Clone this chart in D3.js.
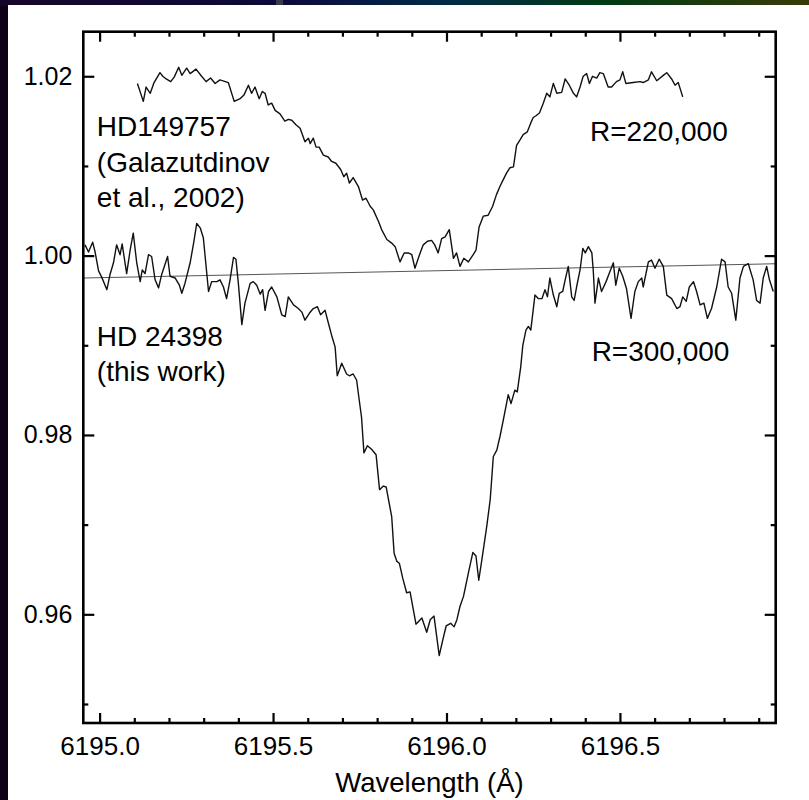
<!DOCTYPE html>
<html>
<head>
<meta charset="utf-8">
<script src="https://cdn.jsdelivr.net/npm/d3@7"></script>
<style>
  html, body { margin: 0; padding: 0; background: #0e0016; }
  svg { display: block; }
  text { font-family: "Liberation Sans", Arial, Helvetica, sans-serif; fill: #000; }
</style>
</head>
<body>
<svg id="chart" width="809" height="800"></svg>
<script>
// ---------------- DATA ----------------
// HD149757 (Galazutdinov et al., 2002), R=220,000
const upperWl = [
  6195.109,6195.126,6195.134,6195.146,6195.157,6195.174,6195.182,6195.192,6195.205,6195.215,
  6195.228,6195.237,6195.251,6195.261,6195.278,6195.294,6195.307,6195.320,6195.333,6195.347,
  6195.371,6195.388,6195.405,6195.416,6195.429,6195.438,6195.448,6195.460,6195.469,6195.477,
  6195.486,6195.496,6195.506,6195.520,6195.534,6195.544,6195.554,6195.566,6195.578,6195.592,
  6195.602,6195.607,6195.616,6195.624,6195.633,6195.645,6195.659,6195.669,6195.681,6195.695,
  6195.704,6195.712,6195.720,6195.731,6195.746,6195.758,6195.768,6195.780,6195.789,6195.804,
  6195.813,6195.828,6195.842,6195.852,6195.866,6195.878,6195.890,6195.900,6195.909,6195.924,
  6195.933,6195.945,6195.957,6195.966,6195.976,6195.986,6195.996,6196.008,6196.020,6196.029,
  6196.039,6196.050,6196.063,6196.077,6196.085,6196.094,6196.106,6196.120,6196.133,6196.144,
  6196.154,6196.164,6196.173,6196.183,6196.193,6196.202,6196.212,6196.221,6196.233,6196.243,
  6196.250,6196.258,6196.268,6196.279,6196.289,6196.298,6196.308,6196.318,6196.332,6196.342,
  6196.354,6196.366,6196.375,6196.385,6196.394,6196.404,6196.412,6196.421,6196.433,6196.442,
  6196.452,6196.466,6196.476,6196.490,6196.500,6196.508,6196.517,6196.538,6196.558,6196.567,
  6196.582,6196.591,6196.606,6196.625,6196.635,6196.649,6196.659,6196.668,6196.681
];
const upperFlux = [
  1.0192,1.0172,1.0188,1.0181,1.0193,1.0204,1.0200,1.0197,1.0194,1.0199,
  1.0210,1.0201,1.0209,1.0203,1.0208,1.0200,1.0194,1.0198,1.0192,1.0196,
  1.0193,1.0172,1.0175,1.0179,1.0190,1.0181,1.0188,1.0175,1.0183,1.0181,
  1.0168,1.0170,1.0162,1.0158,1.0150,1.0152,1.0151,1.0146,1.0142,1.0127,
  1.0131,1.0125,1.0131,1.0121,1.0121,1.0112,1.0110,1.0105,1.0103,1.0096,
  1.0088,1.0092,1.0081,1.0087,1.0077,1.0062,1.0064,1.0055,1.0051,1.0038,
  1.0029,1.0018,1.0014,1.0010,0.9993,1.0003,1.0003,1.0001,0.9986,1.0003,
  1.0012,1.0016,1.0017,1.0012,1.0003,1.0019,1.0021,1.0029,0.9997,1.0003,
  0.9988,0.9997,0.9993,1.0001,1.0006,1.0032,1.0044,1.0045,1.0055,1.0068,
  1.0077,1.0085,1.0092,1.0098,1.0099,1.0123,1.0129,1.0135,1.0138,1.0148,
  1.0154,1.0156,1.0159,1.0170,1.0181,1.0177,1.0192,1.0181,1.0182,1.0197,
  1.0190,1.0181,1.0177,1.0188,1.0200,1.0203,1.0192,1.0200,1.0198,1.0204,
  1.0203,1.0188,1.0188,1.0194,1.0196,1.0205,1.0192,1.0193,1.0194,1.0193,
  1.0196,1.0205,1.0195,1.0201,1.0204,1.0197,1.0190,1.0193,1.0177
];

// HD 24398 (this work), R=300,000
const lowerWl = [
  6194.958,6194.968,6194.980,6194.987,6194.997,6195.006,6195.021,6195.030,6195.040,6195.049,
  6195.059,6195.065,6195.078,6195.088,6195.097,6195.107,6195.117,6195.123,6195.131,6195.141,
  6195.150,6195.160,6195.170,6195.179,6195.196,6195.203,6195.218,6195.230,6195.237,6195.246,
  6195.261,6195.271,6195.280,6195.290,6195.299,6195.307,6195.314,6195.323,6195.338,6195.347,
  6195.357,6195.366,6195.376,6195.386,6195.393,6195.400,6195.410,6195.419,6195.434,6195.443,
  6195.453,6195.463,6195.470,6195.477,6195.487,6195.496,6195.511,6195.525,6195.535,6195.544,
  6195.559,6195.573,6195.583,6195.592,6195.605,6195.616,6195.628,6195.637,6195.650,6195.660,
  6195.669,6195.679,6195.685,6195.698,6195.712,6195.720,6195.731,6195.741,6195.746,6195.755,
  6195.762,6195.772,6195.784,6195.797,6195.807,6195.818,6195.826,6195.842,6195.849,6195.857,
  6195.864,6195.874,6195.885,6195.895,6195.912,6195.929,6195.943,6195.953,6195.964,6195.979,
  6195.989,6195.999,6196.012,6196.022,6196.030,6196.039,6196.049,6196.063,6196.076,6196.085,
  6196.093,6196.102,6196.116,6196.126,6196.135,6196.145,6196.154,6196.164,6196.178,6196.186,
  6196.197,6196.204,6196.214,6196.220,6196.229,6196.236,6196.243,6196.255,6196.265,6196.275,
  6196.284,6196.291,6196.298,6196.308,6196.318,6196.325,6196.335,6196.341,6196.351,6196.361,
  6196.368,6196.375,6196.385,6196.393,6196.400,6196.409,6196.419,6196.423,6196.428,6196.438,
  6196.447,6196.460,6196.469,6196.481,6196.488,6196.498,6196.508,6196.519,6196.532,6196.543,
  6196.553,6196.563,6196.567,6196.582,6196.591,6196.601,6196.613,6196.625,6196.635,6196.649,
  6196.664,6196.673,6196.681,6196.691,6196.700,6196.712,6196.721,6196.731,6196.742,6196.752,
  6196.764,6196.779,6196.793,6196.803,6196.812,6196.822,6196.834,6196.846,6196.856,6196.870,
  6196.884,6196.894,6196.904,6196.913,6196.923,6196.931,6196.942
];
const lowerFlux = [
  1.0012,1.0004,1.0015,1.0004,0.9983,0.9976,0.9962,0.9979,0.9992,1.0012,
  1.0001,1.0013,0.9980,1.0006,1.0025,0.9992,0.9971,0.9984,0.9980,1.0001,
  0.9999,0.9973,0.9964,0.9979,0.9999,0.9977,0.9975,0.9967,0.9958,0.9969,
  0.9992,1.0014,1.0036,1.0031,1.0020,0.9988,0.9960,0.9971,0.9971,0.9973,
  0.9965,0.9952,0.9973,0.9998,0.9996,0.9969,0.9923,0.9947,0.9969,0.9971,
  0.9967,0.9957,0.9962,0.9939,0.9960,0.9965,0.9954,0.9934,0.9932,0.9954,
  0.9945,0.9941,0.9937,0.9928,0.9936,0.9941,0.9943,0.9934,0.9939,0.9924,
  0.9911,0.9898,0.9866,0.9880,0.9868,0.9866,0.9868,0.9861,0.9846,0.9820,
  0.9780,0.9788,0.9784,0.9778,0.9739,0.9743,0.9742,0.9709,0.9668,0.9659,
  0.9657,0.9640,0.9624,0.9625,0.9589,0.9596,0.9580,0.9594,0.9598,0.9554,
  0.9571,0.9587,0.9590,0.9586,0.9594,0.9609,0.9620,0.9646,0.9669,0.9665,
  0.9638,0.9661,0.9698,0.9728,0.9776,0.9783,0.9798,0.9817,0.9845,0.9835,
  0.9850,0.9848,0.9876,0.9900,0.9917,0.9921,0.9917,0.9956,0.9952,0.9952,
  0.9962,0.9954,0.9975,0.9956,0.9943,0.9958,0.9960,0.9971,0.9988,0.9954,
  0.9950,0.9965,0.9984,1.0008,1.0003,1.0010,1.0003,0.9984,0.9947,0.9975,
  0.9960,0.9971,0.9980,0.9992,0.9967,0.9986,0.9977,0.9963,0.9930,0.9960,
  0.9971,0.9975,0.9965,0.9993,0.9995,0.9986,0.9996,0.9988,0.9956,0.9952,
  0.9941,0.9943,0.9954,0.9949,0.9965,0.9971,0.9960,0.9945,0.9947,0.9930,
  0.9941,0.9965,0.9996,0.9993,0.9965,0.9958,0.9928,0.9975,0.9988,0.9991,
  0.9973,0.9950,0.9947,0.9975,0.9988,0.9973,0.9960
];

// continuum fit line
const contWl = [6194.953, 6196.949];
const contFlux = [0.9975, 0.9991];

// axes
const xDomain = [6194.953, 6196.949];
const yDomain = [0.94788, 1.02497];
const xMajorTicks = [6195.0, 6195.5, 6196.0, 6196.5];
const xMinorTicks = [6195.1,6195.2,6195.3,6195.4,6195.6,6195.7,6195.8,6195.9,6196.1,6196.2,6196.3,6196.4,6196.6,6196.7,6196.8,6196.9];
const yMajorTicks = [0.96, 0.98, 1.00, 1.02];
const yMinorTicks = [0.95, 0.97, 0.99, 1.01];
const xLabel = "Wavelength (Å)";

// annotations (data coordinates)
const annotations = [
  { text: "HD149757",       wl: 6194.992, f: 1.01334 },
  { text: "(Galazutdinov",  wl: 6194.992, f: 1.00938 },
  { text: "et al., 2002)",  wl: 6194.992, f: 1.00542 },
  { text: "R=220,000",      wl: 6196.4135, f: 1.01282 },
  { text: "HD 24398",       wl: 6194.992, f: 0.98992 },
  { text: "(this work)",    wl: 6194.992, f: 0.98602 },
  { text: "R=300,000",      wl: 6196.4184, f: 0.98828 }
];

// ---------------- DRAW ----------------
const W = 809, H = 800;
const svg = d3.select("#chart");

// dark frame around the slide
const defs = svg.append("defs");
const grad = defs.append("linearGradient").attr("id", "topgrad").attr("x1", 0).attr("x2", 1).attr("y1", 0).attr("y2", 0);
[["0%", "#160528"], ["35%", "#0c0a3a"], ["55%", "#002a48"], ["75%", "#003a14"], ["100%", "#3a3a08"]]
  .forEach(([o, c]) => grad.append("stop").attr("offset", o).attr("stop-color", c));
svg.append("rect").attr("width", W).attr("height", H).attr("fill", "#0e0016");
svg.append("rect").attr("width", W).attr("height", 6).attr("fill", "url(#topgrad)");
svg.append("rect").attr("x", 276).attr("y", 0).attr("width", 7).attr("height", 6).attr("fill", "#3a3a4e");
svg.append("rect").attr("x", 8).attr("y", 5).attr("width", W - 8).attr("height", H - 5).attr("fill", "#ffffff");

const m = { left: 83.3, right: 775.7, top: 31.7, bottom: 723 };
const x = d3.scaleLinear().domain(xDomain).range([m.left, m.right]);
const y = d3.scaleLinear().domain(yDomain).range([m.bottom, m.top]);

const g = svg.append("g");

defs.append("clipPath").attr("id", "plotclip")
  .append("rect").attr("x", m.left).attr("y", m.top).attr("width", m.right - m.left).attr("height", m.bottom - m.top);

const plot = g.append("g").attr("clip-path", "url(#plotclip)");

const line = d3.line().x(d => x(d[0])).y(d => y(d[1]));

plot.append("path")
  .datum(contWl.map((w, i) => [w, contFlux[i]]))
  .attr("d", line).attr("fill", "none").attr("stroke", "#555").attr("stroke-width", 1.1);

plot.append("path")
  .datum(upperWl.map((w, i) => [w, upperFlux[i]]))
  .attr("d", line).attr("fill", "none").attr("stroke", "#111").attr("stroke-width", 1.4).attr("stroke-linejoin", "round");

plot.append("path")
  .datum(lowerWl.map((w, i) => [w, lowerFlux[i]]))
  .attr("d", line).attr("fill", "none").attr("stroke", "#111").attr("stroke-width", 1.4).attr("stroke-linejoin", "round");

function styleAxis(sel) {
  sel.select(".domain").remove();
  sel.selectAll(".tick line").attr("stroke", "#000").attr("stroke-width", 2.2);
  sel.selectAll(".tick text").style("font-family", '"Liberation Sans", Arial, sans-serif').attr("fill", "#000");
}
const fmtX = d3.format(".1f");
const fmtY = d3.format(".2f");

// bottom major with labels
g.append("g").attr("transform", `translate(0,${m.bottom})`)
  .call(d3.axisBottom(x).tickValues(xMajorTicks).tickSizeInner(-10).tickSizeOuter(0).tickPadding(14).tickFormat(fmtX))
  .call(styleAxis)
  .call(s => s.selectAll(".tick text").attr("font-size", 26));
g.append("g").attr("transform", `translate(0,${m.bottom})`)
  .call(d3.axisBottom(x).tickValues(xMinorTicks).tickSizeInner(-5).tickSizeOuter(0).tickFormat(""))
  .call(styleAxis);
g.append("g").attr("transform", `translate(0,${m.top})`)
  .call(d3.axisTop(x).tickValues(xMajorTicks).tickSizeInner(-10).tickSizeOuter(0).tickFormat(""))
  .call(styleAxis);
g.append("g").attr("transform", `translate(0,${m.top})`)
  .call(d3.axisTop(x).tickValues(xMinorTicks).tickSizeInner(-5).tickSizeOuter(0).tickFormat(""))
  .call(styleAxis);
g.append("g").attr("transform", `translate(${m.left},0)`)
  .call(d3.axisLeft(y).tickValues(yMajorTicks).tickSizeInner(-11).tickSizeOuter(0).tickPadding(11).tickFormat(fmtY))
  .call(styleAxis)
  .call(s => s.selectAll(".tick text").attr("font-size", 25));
g.append("g").attr("transform", `translate(${m.left},0)`)
  .call(d3.axisLeft(y).tickValues(yMinorTicks).tickSizeInner(-5).tickSizeOuter(0).tickFormat(""))
  .call(styleAxis);
g.append("g").attr("transform", `translate(${m.right},0)`)
  .call(d3.axisRight(y).tickValues(yMajorTicks).tickSizeInner(-11).tickSizeOuter(0).tickFormat(""))
  .call(styleAxis);
g.append("g").attr("transform", `translate(${m.right},0)`)
  .call(d3.axisRight(y).tickValues(yMinorTicks).tickSizeInner(-5).tickSizeOuter(0).tickFormat(""))
  .call(styleAxis);

// frame
g.append("rect")
  .attr("x", m.left).attr("y", m.top)
  .attr("width", m.right - m.left).attr("height", m.bottom - m.top)
  .attr("fill", "none").attr("stroke", "#000").attr("stroke-width", 2.6);

// axis title
g.append("text")
  .attr("x", (m.left + m.right) / 2).attr("y", 792)
  .attr("text-anchor", "middle").attr("font-size", 27.5)
  .text(xLabel);

// annotations
g.selectAll("text.ann").data(annotations).join("text")
  .attr("class", "ann")
  .attr("x", d => x(d.wl)).attr("y", d => y(d.f))
  .attr("font-size", 28)
  .text(d => d.text);
</script>
</body>
</html>
